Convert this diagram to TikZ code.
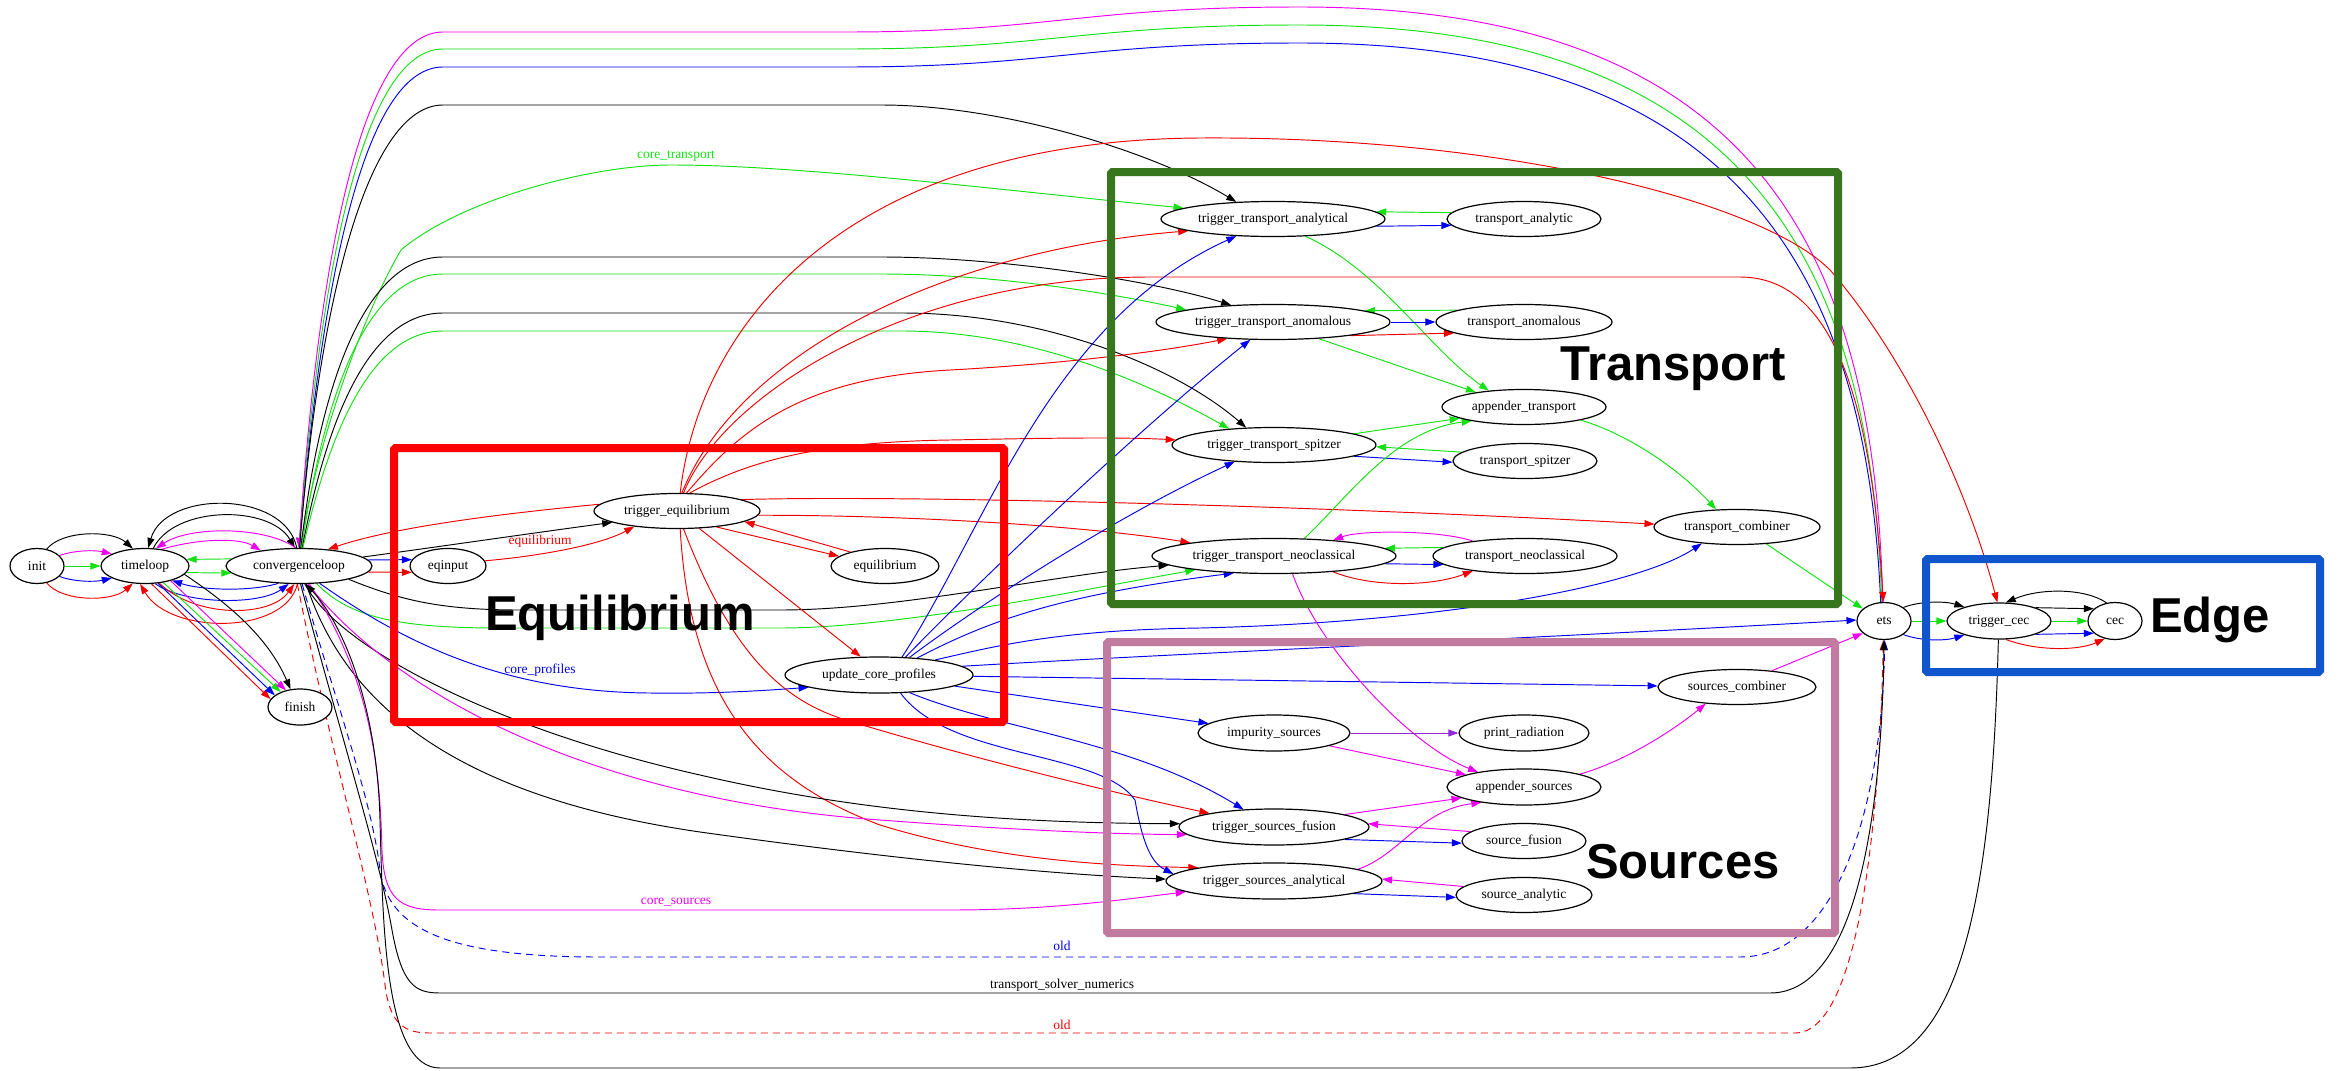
\documentclass[tikz,border=0pt]{standalone}
\usepackage{fontspec}
\setmainfont{Liberation Serif}
\newfontfamily\bigsans{Liberation Sans}
\usetikzlibrary{arrows.meta,shapes.geometric}
\pgfdeclarelayer{edges}
\pgfsetlayers{edges,main}
\definecolor{gvred}{RGB}{240,0,0}
\definecolor{gvgreen}{RGB}{20,225,20}
\definecolor{gvblue}{RGB}{0,0,240}
\definecolor{gvmag}{RGB}{240,0,240}
\definecolor{gvpurple}{RGB}{150,40,220}
\definecolor{boxred}{RGB}{255,0,0}
\definecolor{boxgreen}{RGB}{56,118,29}
\definecolor{boxmauve}{RGB}{194,123,160}
\definecolor{boxblue}{RGB}{17,85,204}
\begin{document}
\begin{tikzpicture}[x=1pt,y=-1pt,
  nd/.style={draw,ellipse,line width=1.2pt,fill=white,inner sep=0pt,minimum height=35pt,font=\fontsize{13.5}{16}\selectfont},
  edg/.style={line width=0.95pt,-{Triangle[length=10pt,width=7pt]}},
  lbl/.style={inner sep=0pt,font=\fontsize{13.5}{16}\selectfont},
  cluster/.style={line width=8pt,rounded corners=1.5pt},
  bigtitle/.style={inner sep=0pt,anchor=base west,font=\bigsans\bfseries\fontsize{49}{56}\selectfont},
  olddash/.style={dash pattern=on 7pt off 5pt}]
\useasboundingbox (0,0) rectangle (2338,1071);

% ---------- nodes ----------
\node[nd,minimum width=54pt] (init) at (37,566) {init};
\node[nd,minimum width=88pt] (tl) at (145,566) {timeloop};
\node[nd,minimum width=146pt] (cl) at (299,566) {convergenceloop};
\node[nd,minimum width=64pt,minimum height=36pt] (fin) at (300,707) {finish};
\node[nd,minimum width=76pt] (eqi) at (448,566) {eqinput};
\node[nd,minimum width=166pt] (teq) at (677,511) {trigger\_equilibrium};
\node[nd,minimum width=108pt] (equ) at (885,566) {equilibrium};
\node[nd,minimum width=188pt,minimum height=36pt] (ucp) at (879,675) {update\_core\_profiles};

\node[nd,minimum width=224pt] (tta) at (1273,219) {trigger\_transport\_analytical};
\node[nd,minimum width=154pt] (tra) at (1524,219) {transport\_analytic};
\node[nd,minimum width=234pt] (tano) at (1273,322) {trigger\_transport\_anomalous};
\node[nd,minimum width=176pt] (trano) at (1524,322) {transport\_anomalous};
\node[nd,minimum width=164pt] (apt) at (1524,407) {appender\_transport};
\node[nd,minimum width=204pt] (tts) at (1274,445) {trigger\_transport\_spitzer};
\node[nd,minimum width=144pt] (trs) at (1525,461) {transport\_spitzer};
\node[nd,minimum width=166pt] (tcomb) at (1737,527) {transport\_combiner};
\node[nd,minimum width=244pt] (ttn) at (1274,556) {trigger\_transport\_neoclassical};
\node[nd,minimum width=184pt] (trn) at (1525,556) {transport\_neoclassical};

\node[nd,minimum width=54pt,minimum height=37pt] (ets) at (1884,621) {ets};
\node[nd,minimum width=104pt,minimum height=36pt] (tcec) at (1999,621) {trigger\_cec};
\node[nd,minimum width=54pt,minimum height=37pt] (cec) at (2115,621) {cec};

\node[nd,minimum width=158pt] (scomb) at (1737,687) {sources\_combiner};
\node[nd,minimum width=152pt,minimum height=36pt] (imp) at (1274,733) {impurity\_sources};
\node[nd,minimum width=130pt,minimum height=36pt] (prad) at (1524,733) {print\_radiation};
\node[nd,minimum width=154pt,minimum height=36pt] (aps) at (1524,787) {appender\_sources};
\node[nd,minimum width=190pt,minimum height=36pt] (tsf) at (1274,827) {trigger\_sources\_fusion};
\node[nd,minimum width=124pt] (srf) at (1524,841) {source\_fusion};
\node[nd,minimum width=216pt,minimum height=36pt] (tsa) at (1274,881) {trigger\_sources\_analytical};
\node[nd,minimum width=136pt] (sra) at (1524,895) {source\_analytic};

% ---------- edges ----------
\begin{pgfonlayer}{edges}
% init -> timeloop
\draw[edg] (init.60) .. controls (62,530) and (112,530) .. (tl.125);
\draw[edg,gvmag] (init.25) .. controls (75,550) and (95,550) .. (tl.160);
\draw[edg,gvgreen] (init) -- (tl);
\draw[edg,gvblue] (init.-25) .. controls (75,582) and (95,582) .. (tl.-160);
\draw[edg,gvred] (init.-60) .. controls (62,602) and (112,602) .. (tl.-125);

% timeloop <-> convergenceloop
\draw[edg] (cl.97) .. controls (285,490) and (165,490) .. (tl.80);
\draw[edg] (tl.65) .. controls (175,505) and (270,505) .. (cl.103);
\draw[edg,gvmag] (cl.100) .. controls (265,526) and (190,526) .. (tl.58);
\draw[edg,gvmag] (tl.45) .. controls (200,538) and (240,538) .. (cl.158);
\draw[edg,gvgreen] (cl.174) -- (tl.9);
\draw[edg,gvgreen] (tl.-9) -- (cl.-174);
\draw[edg,gvblue] (cl.-140) .. controls (250,592) and (200,590) .. (tl.-28);
\draw[edg,gvblue] (tl.-60) .. controls (185,605) and (260,605) .. (cl.-120);
\draw[edg,gvred] (tl.-50) .. controls (195,618) and (270,618) .. (cl.-105);
\draw[edg,gvred] (cl.-95) .. controls (285,635) and (170,635) .. (tl.-105);

% timeloop -> finish
\draw[edg,gvred] (tl.-70) -- (fin.165);
\draw[edg,gvblue] (tl.-53) -- (fin.155);
\draw[edg,gvgreen] (tl.-42) -- (fin.142);
\draw[edg,gvmag] (tl.-30) -- (fin.130);
\draw[edg] (tl.-12) .. controls (215,595) and (265,630) .. (fin.118);

% ets -> convergenceloop over the top
\draw[edg,gvblue] (ets.100) .. controls (1865,230) and (1700,43) .. (1300,43) .. controls (1080,43) and (1050,67) .. (846,67) -- (443,67) .. controls (370,67) and (325,250) .. (cl.90);
\draw[edg,gvgreen] (ets.97) .. controls (1870,220) and (1710,25) .. (1300,25) .. controls (1080,25) and (1050,49) .. (846,49) -- (443,49) .. controls (370,49) and (323,235) .. (cl.90);
\draw[edg,gvmag] (ets.94) .. controls (1875,210) and (1720,7) .. (1300,7) .. controls (1080,7) and (1050,32) .. (846,32) -- (443,32) .. controls (370,32) and (321,220) .. (cl.90);

% convergenceloop -> transport triggers
\draw[edg] (cl.88) .. controls (320,290) and (370,105) .. (443,105) -- (881,105) .. controls (1000,105) and (1150,150) .. (tta.155);
\draw[edg,gvgreen] (cl.86) .. controls (315,450) and (360,320) .. (401,250) .. controls (460,200) and (590,165) .. (671,165) .. controls (800,165) and (1000,190) .. (tta.173);
\node[lbl,text=gvgreen] at (676,156) {core\_transport};
\draw[edg] (cl.84) .. controls (318,400) and (360,257) .. (443,257) -- (881,257) .. controls (1000,257) and (1150,280) .. (tano.158);
\draw[edg,gvgreen] (cl.82) .. controls (322,410) and (362,274) .. (443,274) -- (881,274) .. controls (1000,274) and (1120,295) .. (tano.172);
\draw[edg] (cl.80) .. controls (325,430) and (365,313) .. (443,313) -- (902,313) .. controls (1050,313) and (1180,370) .. (tts.148);
\draw[edg,gvgreen] (cl.78) .. controls (328,440) and (368,331) .. (443,331) -- (902,331) .. controls (1040,331) and (1160,390) .. (tts.160);
\draw[edg] (cl.-15) .. controls (400,600) and (440,610) .. (520,610) -- (780,610) .. controls (900,610) and (1050,575) .. (ttn.-175);
\draw[edg,gvgreen] (cl.-45) .. controls (350,618) and (400,628) .. (500,628) -- (780,628) .. controls (900,628) and (1080,590) .. (ttn.-170);

% equilibrium group
\draw[edg,gvred] (teq.175) .. controls (520,512) and (400,525) .. (cl.30);
\draw[edg] (cl.8) .. controls (430,548) and (540,532) .. (teq.-170);
\draw[edg,gvblue] (cl.5) -- (eqi.170);
\draw[edg,gvred] (cl.-5) -- (eqi.-170);
\draw[edg,gvred] (eqi.8) .. controls (540,556) and (600,545) .. (teq.-160);
\node[lbl,text=gvred] at (540,541) {equilibrium};
\draw[edg,gvred] (teq.-22) -- (equ.168);
\draw[edg,gvred] (equ.158) -- (teq.-9);
\draw[edg,gvred] (teq.-38) -- (ucp.135);
\draw[edg,gvblue] (cl.-40) .. controls (400,640) and (500,692) .. (650,693) .. controls (720,694) and (770,690) .. (ucp.-170);
\node[lbl,text=gvblue] at (540,670) {core\_profiles};

% trigger_equilibrium fan-out
\draw[edg,gvred] (teq.80) .. controls (700,320) and (850,140) .. (1200,138) .. controls (1500,136) and (1760,200) .. (1830,270) .. controls (1900,350) and (1965,480) .. (tcec.95);
\draw[edg,gvred] (teq.75) .. controls (740,350) and (950,250) .. (tta.-172);
\draw[edg,gvred] (teq.70) .. controls (720,400) and (900,277) .. (1150,277) -- (1740,277) .. controls (1840,277) and (1872,420) .. (ets.92);
\draw[edg,gvred] (teq.62) .. controls (740,430) and (800,378) .. (950,370) .. controls (1060,364) and (1160,352) .. (tano.-160);
\draw[edg,gvred] (teq.55) .. controls (750,460) and (820,442) .. (950,440) .. controls (1050,438) and (1120,437) .. (tts.177);
\draw[edg,gvred] (teq.10) .. controls (900,495) and (1300,505) .. (tcomb.178);
\draw[edg,gvred] (teq.-3) .. controls (900,515) and (1080,525) .. (ttn.171);
\draw[edg,gvred] (teq.-70) .. controls (730,650) and (780,700) .. (846,720) .. controls (950,752) and (1100,790) .. (tsf.168);
\draw[edg,gvred] (teq.-80) .. controls (690,700) and (760,780) .. (880,825) .. controls (1000,862) and (1120,866) .. (tsa.170);

% update_core_profiles fan-out
\draw[edg,gvblue] (ucp.38) .. controls (985,530) and (1050,320) .. (tta.-155);
\draw[edg,gvblue] (ucp.34) .. controls (1000,560) and (1150,420) .. (tano.-142);
\draw[edg,gvblue] (ucp.30) .. controls (1000,590) and (1130,510) .. (tts.-157);
\draw[edg,gvblue] (ucp.24) .. controls (990,620) and (1060,595) .. (ttn.-157);
\draw[edg,gvblue] (ucp.15) .. controls (1000,645) and (1060,630) .. (1200,628) .. controls (1450,622) and (1640,585) .. (tcomb.-155);
\draw[edg,gvblue] (ucp.6) .. controls (1150,655) and (1500,640) .. (ets.178);
\draw[edg,gvblue] (ucp) -- (scomb);
\draw[edg,gvblue] (ucp) -- (imp);
\draw[edg,gvblue] (ucp.-30) .. controls (1000,730) and (1130,740) .. (tsf.150);
\draw[edg,gvblue] (ucp.-40) .. controls (950,760) and (1100,750) .. (1135,800) .. controls (1142,840) and (1150,862) .. (tsa.176);

% convergenceloop -> source triggers
\draw[edg] (cl.-72) .. controls (340,650) and (500,730) .. (700,775) .. controls (850,810) and (1000,823) .. (tsf.178);
\draw[edg] (cl.-68) .. controls (350,720) and (480,800) .. (700,832) .. controls (900,860) and (1050,874) .. (tsa.179);
\draw[edg,gvmag] (cl.-64) .. controls (400,700) and (600,800) .. (880,820) .. controls (1000,829) and (1100,834) .. (tsf.-175);
\draw[edg,gvmag] (cl.-60) .. controls (372,680) and (380,770) .. (382,850) .. controls (384,900) and (400,910) .. (440,910) -- (950,910) .. controls (1050,910) and (1120,900) .. (tsa.-173);
\node[lbl,text=gvmag] at (676,902) {core\_sources};

% convergenceloop -> ets along the bottom
\draw[edg,gvblue,olddash] (cl.-80) .. controls (335,700) and (372,800) .. (380,870) .. controls (388,930) and (450,957) .. (600,957) -- (1740,957) .. controls (1840,957) and (1882,800) .. (ets.-88);
\node[lbl,text=gvblue] at (1062,946) {old};
\draw[edg,gvred,olddash] (cl.-95) .. controls (330,750) and (375,900) .. (385,985) .. controls (390,1025) and (405,1033) .. (430,1033) -- (1795,1033) .. controls (1862,1033) and (1880,800) .. (ets.-92);
\node[lbl,text=gvred] at (1062,1025) {old};
\draw[edg] (cl.-85) .. controls (345,750) and (380,860) .. (392,930) .. controls (402,985) and (415,993) .. (440,993) -- (1770,993) .. controls (1860,993) and (1882,800) .. (ets.-90);
\node[lbl] at (1062,985) {transport\_solver\_numerics};

% trigger_cec back to convergenceloop
\draw[edg] (tcec.-92) .. controls (1992,900) and (1960,1068) .. (1850,1068) -- (440,1068) .. controls (385,1068) and (383,930) .. (380,820) .. controls (377,700) and (340,620) .. (cl.-70);

% edge group
\draw[edg] (ets.35) .. controls (1920,601) and (1945,601) .. (tcec.158);
\draw[edg,gvgreen] (ets) -- (tcec);
\draw[edg,gvblue] (ets.-35) .. controls (1920,641) and (1945,641) .. (tcec.-158);
\draw[edg] (cec.115) .. controls (2085,588) and (2040,588) .. (tcec.70);
\draw[edg] (tcec.20) -- (cec.150);
\draw[edg,gvgreen] (tcec) -- (cec);
\draw[edg,gvblue] (tcec.-20) -- (cec.-150);
\draw[edg,gvred] (tcec.-70) .. controls (2040,652) and (2080,650) .. (cec.-120);

% transport group
\draw[edg,gvgreen] (tra.175) -- (tta.4);
\draw[edg,gvblue] (tta.-4) -- (tra.-175);
\draw[edg,gvgreen] (tta.-28) .. controls (1380,270) and (1430,350) .. (apt.155);
\draw[edg,gvgreen] (trano.170) -- (tano.7);
\draw[edg,gvblue] (tano) -- (trano);
\draw[edg,gvred] (tano.-10) -- (trano.-171);
\draw[edg,gvgreen] (tano.-20) -- (apt.163);
\draw[edg,gvgreen] (tts.8) -- (apt.-170);
\draw[edg,gvgreen] (trs.172) -- (tts.-1);
\draw[edg,gvblue] (tts.-8) -- (trs.-179);
\draw[edg,gvgreen] (ttn.30) .. controls (1350,495) and (1395,430) .. (apt.-165);
\draw[edg,gvgreen] (trn.174) -- (ttn.4);
\draw[edg,gvmag] (trn.164) .. controls (1440,530) and (1360,530) .. (ttn.15);
\draw[edg,gvblue] (ttn.-4) -- (trn.-174);
\draw[edg,gvred] (ttn.-15) .. controls (1370,587) and (1430,587) .. (trn.-164);
\draw[edg,gvgreen] (apt.-13) .. controls (1630,435) and (1680,470) .. (tcomb.140);
\draw[edg,gvgreen] (tcomb.-30) -- (ets.150);
\draw[edg,gvmag] (ttn.-44) .. controls (1320,650) and (1410,745) .. (aps.162);

% sources group
\draw[edg,gvpurple] (imp) -- (prad);
\draw[edg,gvmag] (imp.-13) -- (aps.168);
\draw[edg,gvmag] (tsf.10) -- (aps.-170);
\draw[edg,gvmag] (tsa.8) .. controls (1400,855) and (1420,810) .. (aps.-160);
\draw[edg,gvmag] (srf.170) -- (tsf.2);
\draw[edg,gvblue] (tsf.-10) -- (srf.-178);
\draw[edg,gvmag] (sra.172) -- (tsa.1);
\draw[edg,gvblue] (tsa.-9) -- (sra.-178);
\draw[edg,gvmag] (aps.13) .. controls (1630,760) and (1680,725) .. (scomb.-152);
\draw[edg,gvmag] (scomb.25) -- (ets.-150);
\end{pgfonlayer}

% ---------- group frames and titles ----------
\draw[cluster,boxred] (394,448) rectangle (1004,722);
\draw[cluster,boxgreen] (1111,172) rectangle (1838,604);
\draw[cluster,boxmauve] (1107,642) rectangle (1835,933);
\draw[cluster,boxblue] (1926,559) rectangle (2320,672);
\node[bigtitle] (tEq) at (485,630) {Equilibrium};
\node[bigtitle] (tTr) at (1560,380) {Transport};
\node[bigtitle] (tSo) at (1586,878) {Sources};
\node[bigtitle] (tEd) at (2150,632) {Edge};
\end{tikzpicture}
\end{document}
